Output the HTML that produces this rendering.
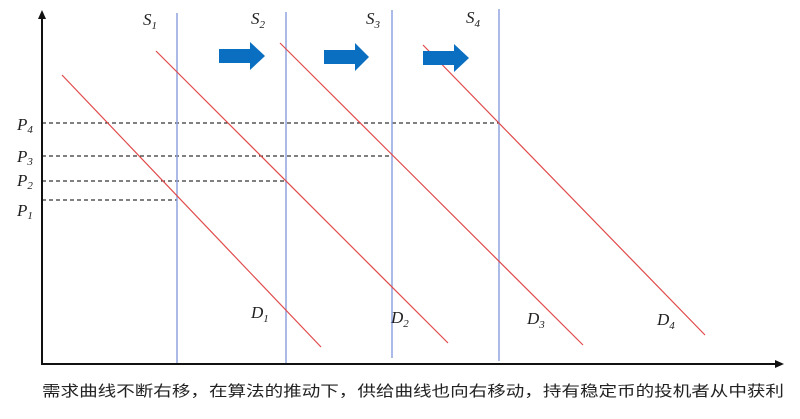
<!DOCTYPE html>
<html><head><meta charset="utf-8"><style>
html,body{margin:0;padding:0;background:#fff;width:800px;height:419px;overflow:hidden}
svg{display:block}
.l{font-family:"Liberation Serif",serif;font-style:italic;font-size:17px;fill:#222}
.s{font-size:11px}
</style></head><body>
<svg width="800" height="419" viewBox="0 0 800 419">
<g stroke="#000" stroke-width="1" stroke-dasharray="4,3">
<line x1="42" y1="123" x2="499" y2="123"/>
<line x1="42" y1="156" x2="392" y2="156"/>
<line x1="42" y1="181" x2="286" y2="181"/>
<line x1="42" y1="200" x2="177" y2="200"/>
</g>
<g stroke="#8fa3dd" stroke-width="1.5">
<line x1="177" y1="13" x2="177" y2="365"/>
<line x1="286" y1="12" x2="286" y2="363"/>
<line x1="392" y1="10" x2="392" y2="358"/>
<line x1="499" y1="9" x2="499" y2="361"/>
</g>
<g stroke="#e04a4a" stroke-width="1.2">
<line x1="62" y1="75" x2="321" y2="347"/>
<line x1="156" y1="51" x2="448" y2="343"/>
<line x1="280" y1="43" x2="583" y2="345"/>
<line x1="423" y1="45" x2="705" y2="335"/>
</g>
<g fill="#0a6fc0">
<polygon points="219,49 250,49 250,42 265,56 250,70 250,63 219,63"/>
<polygon points="324,50 355,50 355,43 369,57 355,71 355,64 324,64"/>
<polygon points="423,51 454,51 454,44 469,58 454,72 454,65 423,65"/>
</g>
<g stroke="#111" stroke-width="2" fill="none">
<line x1="42" y1="18" x2="42" y2="365"/>
<line x1="41" y1="364" x2="778" y2="364"/>
</g>
<polygon points="42,10 38,19 46,19" fill="#111"/>
<polygon points="784,364 775,360 775,368" fill="#111"/>
<text class="l" x="143" y="25">S<tspan class="s" dy="4">1</tspan></text>
<text class="l" x="251" y="24">S<tspan class="s" dy="4">2</tspan></text>
<text class="l" x="366" y="24">S<tspan class="s" dy="4">3</tspan></text>
<text class="l" x="466" y="23">S<tspan class="s" dy="4">4</tspan></text>
<text class="l" x="17" y="130">P<tspan class="s" dy="3">4</tspan></text>
<text class="l" x="17" y="162">P<tspan class="s" dy="3">3</tspan></text>
<text class="l" x="17" y="186">P<tspan class="s" dy="3">2</tspan></text>
<text class="l" x="17" y="216">P<tspan class="s" dy="3">1</tspan></text>
<text class="l" x="251" y="318">D<tspan class="s" dy="4">1</tspan></text>
<text class="l" x="391" y="323">D<tspan class="s" dy="4">2</tspan></text>
<text class="l" x="527" y="324">D<tspan class="s" dy="4">3</tspan></text>
<text class="l" x="657" y="325">D<tspan class="s" dy="4">4</tspan></text>
<text x="42" y="396" font-family="'Liberation Sans','Noto Sans CJK SC',sans-serif" font-size="15" fill="#222" textLength="742" lengthAdjust="spacingAndGlyphs">需求曲线不断右移，在算法的推动下，供给曲线也向右移动，持有稳定币的投机者从中获利</text>
</svg>
</body></html>
